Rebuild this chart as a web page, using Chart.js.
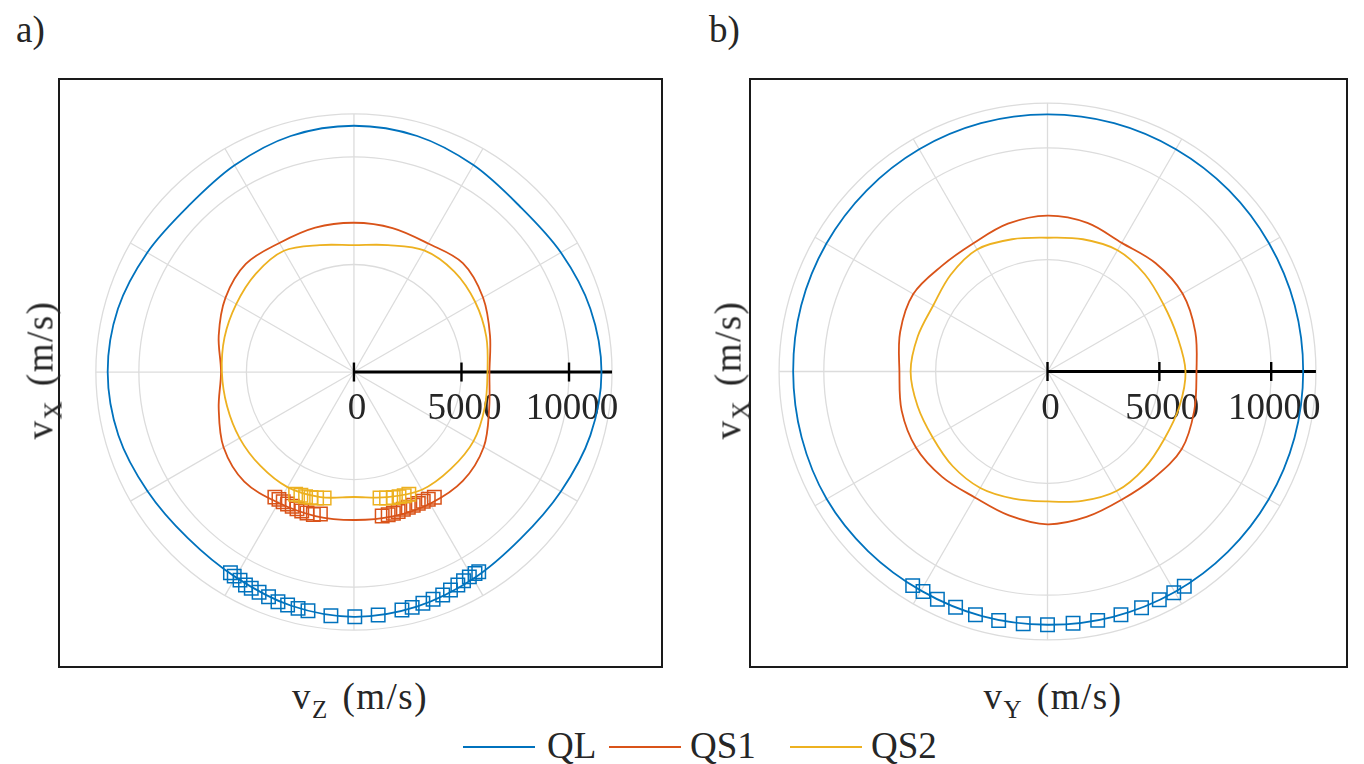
<!DOCTYPE html>
<html>
<head>
<meta charset="utf-8">
<script src="https://cdn.jsdelivr.net/npm/chart.js@4.4.0/dist/chart.umd.min.js"></script>
<style>
body{margin:0;width:1364px;height:764px;background:#fff;position:relative;overflow:hidden;font-family:"Liberation Serif",serif;color:#262626}
canvas{position:absolute}
.t{position:absolute;white-space:nowrap;line-height:1;font-size:37px}
.sub{font-size:25px;position:relative;top:9px;margin-right:3px}
.ttl{letter-spacing:1.5px;transform:translate(-50%,-50%)}
.rot{transform:translate(-50%,-50%) rotate(-90deg)}
.key{position:absolute;height:2px;width:72px;top:746px}
</style>
</head>
<body>
<canvas id="zx" width="605" height="590" style="left:58px;top:78px"></canvas>
<canvas id="yx" width="599" height="590" style="left:749px;top:78px"></canvas>

<div class="t" style="left:16px;top:11px">a)</div>
<div class="t" style="left:709px;top:11px">b)</div>
<div class="t ttl" style="left:360px;top:696px">v<span class="sub">Z</span> (m/s)</div>
<div class="t ttl" style="left:1053px;top:696px">v<span class="sub">Y</span> (m/s)</div>
<div class="t ttl rot" style="left:40px;top:370px">v<span class="sub">X</span> (m/s)</div>
<div class="t ttl rot" style="left:728px;top:370px">v<span class="sub">X</span> (m/s)</div>

<div class="key" style="left:463px;background:#0072BD"></div>
<div class="t" style="left:547px;top:727px">QL</div>
<div class="key" style="left:609px;background:#D95319"></div>
<div class="t" style="left:690px;top:727px">QS1</div>
<div class="key" style="left:790px;background:#EDB120"></div>
<div class="t" style="left:871px;top:727px">QS2</div>

<script>
// angles (deg, counter-clockwise from the horizontal axis) where the curves were read
let angles=[0,15,30,45,60,75,90,105,120,135,150,165,180,195,210,225,240,255,270,285,300,315,330,345];

/* a) vZ - vX plane, m/s */
let qlZX =[11510,11380,11110,10900,11110,11360,11450,11360,11100,10900,11100,11360,11450,11340,11080,10920,11010,11250,11380,11290,11100,10960,11110,11380];
let qs1ZX=[6300,6550,6930,7160,6900,6930,6940,6950,6930,7110,6900,6510,6180,6510,7000,7210,7020,6930,6880,6950,7070,7160,6970,6510];
let qs2ZX=[6210,6370,6510,6600,6530,6110,5900,6110,6510,6460,6320,6230,6140,6110,6140,6160,6180,6020,5810,6020,6320,6370,6420,6300];

// measured points a)
let qlZXAng=[238.4,239.6,241.3,243,244.6,246.7,249.2,251.7,254.1,256.7,259.1,264.6,270.2,275.7,281.4,283.9,286.6,289.2,291.7,293.9,296,297.7,299.4,301,302];
let qlZXVel=[10960,11000,11030,11110,11130,11150,11180,11250,11260,11290,11300,11380,11380,11350,11290,11270,11220,11190,11160,11080,11020,10960,10930,10930,10950];
let qs1ZXAng=[237.7,239.5,241.4,243.3,245.3,247.4,249.4,251.6,254.1,256.7,281.1,283.5,285.6,287.6,289.8,291.9,294,296.1,298.2,300.3,302.7];
let qs1ZXVel=[6880,6870,6870,6870,6870,6890,6900,6910,6890,6780,6820,6820,6820,6800,6780,6780,6780,6800,6820,6850,6920];
let qs2ZXAng=[244.5,246.7,248.8,251.1,253.5,256.7,281.7,284.5,287.4,289.9,292.1,294.2];
let qs2ZXVel=[6300,6240,6220,6160,6110,6020,5980,6050,6110,6160,6210,6230];

/* b) vY - vX plane, m/s */
let qlYX =[11430,11440,11440,11460,11470,11490,11490,11490,11470,11440,11420,11400,11370,11380,11400,11350,11310,11320,11320,11350,11380,11400,11420,11430];
let qs1YX=[6660,6840,6970,6840,6640,6880,6970,6840,6620,6680,6930,6820,6620,6750,6790,6660,6500,6660,6830,6730,6620,6730,6930,6790];
let qs2YX=[6170,6010,5990,6150,6260,6120,5980,6120,6300,6120,5900,6010,6120,6010,5920,5990,6010,5880,5810,5990,6170,6120,6030,6100];

// measured points b)
let qlYXAng=[237.8,240.5,244.2,248.7,253.5,258.9,264.5,270,275.8,281.4,286.8,291.7,296.1,299.7,302.5];
let qlYXVel=[11310,11300,11310,11310,11340,11340,11330,11320,11310,11350,11360,11370,11360,11390,11380];

/* polar grid */
let rings=[5000,10000,12000];
let spokes=[0,30,60,90,120,150,180,210,240,270,300,330];
let ticks=[0,5000,10000];
let tickLabels=["0","5000","10000"];

let blue="#0072BD", red="#D95319", yellow="#EDB120";

function pt(a,v){
let r=a*Math.PI/180;
return {x:v*Math.cos(r), y:v*Math.sin(r)};
}

/* closed curve: one extra point on each side so the spline closes smoothly */
function curve(vals,color){
let p=vals.map((v,i)=>pt(angles[i],v));
let data=[p[p.length-1]].concat(p,[p[0],p[1]]);
let n=data.length;
return {
data:data, showLine:true, borderColor:color, borderWidth:1.8,
pointRadius:0, tension:0.34, fill:false,
segment:{borderColor:c=>(c.p0DataIndex===0||c.p1DataIndex===n-1)?"rgba(0,0,0,0)":color}
};
}

function marks(ang,vals,color){
return {
data:ang.map((a,i)=>pt(a,vals[i])), showLine:false,
pointStyle:"rect", pointRadius:9.5, pointBorderWidth:1.5,
borderColor:color, backgroundColor:"rgba(0,0,0,0)", pointBackgroundColor:"rgba(0,0,0,0)"
};
}

/* GRID, RULER, FRAME */
let polarDecor={
id:"polarDecor",
beforeDatasetsDraw(chart){
let ctx=chart.ctx, x=chart.scales.x, y=chart.scales.y;
let cx=x.getPixelForValue(0), cy=y.getPixelForValue(0);
let R=rings[rings.length-1];
ctx.save();
ctx.strokeStyle="#dcdcdc";
ctx.lineWidth=1.3;
rings.forEach(v=>{
ctx.beginPath();
ctx.arc(cx,cy,x.getPixelForValue(v)-cx,0,2*Math.PI);
ctx.stroke();
});
spokes.forEach(a=>{
let q=pt(a,R);
ctx.beginPath();
ctx.moveTo(cx,cy);
ctx.lineTo(x.getPixelForValue(q.x),y.getPixelForValue(q.y));
ctx.stroke();
});
// ruler along the positive horizontal axis
ctx.strokeStyle="#000";
ctx.lineWidth=3;
ctx.beginPath();
ctx.moveTo(cx,cy);
ctx.lineTo(x.getPixelForValue(R),cy);
ctx.stroke();
ctx.lineWidth=2.4;
ctx.fillStyle="#262626";
ctx.font='37px "Liberation Serif"';
ctx.textAlign="center";
ctx.textBaseline="alphabetic";
ticks.forEach((v,i)=>{
let px=x.getPixelForValue(v);
ctx.beginPath();
ctx.moveTo(px,cy-9.5);
ctx.lineTo(px,cy+9.5);
ctx.stroke();
ctx.fillText(tickLabels[i],px+3,cy+47);
});
ctx.restore();
},
afterDraw(chart){
let ctx=chart.ctx, a=chart.chartArea;
ctx.save();
ctx.strokeStyle="#1a1a1a";
ctx.lineWidth=2;
ctx.strokeRect(a.left+1,a.top+1,a.right-a.left-2,a.bottom-a.top-2);
ctx.restore();
}
};

function makeChart(id,lim,sets){
return new Chart(document.getElementById(id),{
type:"scatter",
data:{datasets:sets},
options:{
responsive:false, animation:false, devicePixelRatio:1,
layout:{padding:0, autoPadding:false},
plugins:{legend:{display:false}, tooltip:{enabled:false}},
scales:{
x:{type:"linear", display:false, min:lim[0], max:lim[1]},
y:{type:"linear", display:false, min:lim[2], max:lim[3]}
}
},
plugins:[polarDecor]
});
}

makeChart("zx",[-13760,14370,-13760,13670],[
marks(qlZXAng,qlZXVel,blue),
marks(qs2ZXAng,qs2ZXVel,yellow),
marks(qs1ZXAng,qs1ZXVel,red),
curve(qs2ZX,yellow),
curve(qs1ZX,red),
curve(qlZX,blue)
]);

makeChart("yx",[-13344,13433,-13254,13120],[
marks(qlYXAng,qlYXVel,blue),
curve(qs2YX,yellow),
curve(qs1YX,red),
curve(qlYX,blue)
]);
</script>
</body>
</html>
